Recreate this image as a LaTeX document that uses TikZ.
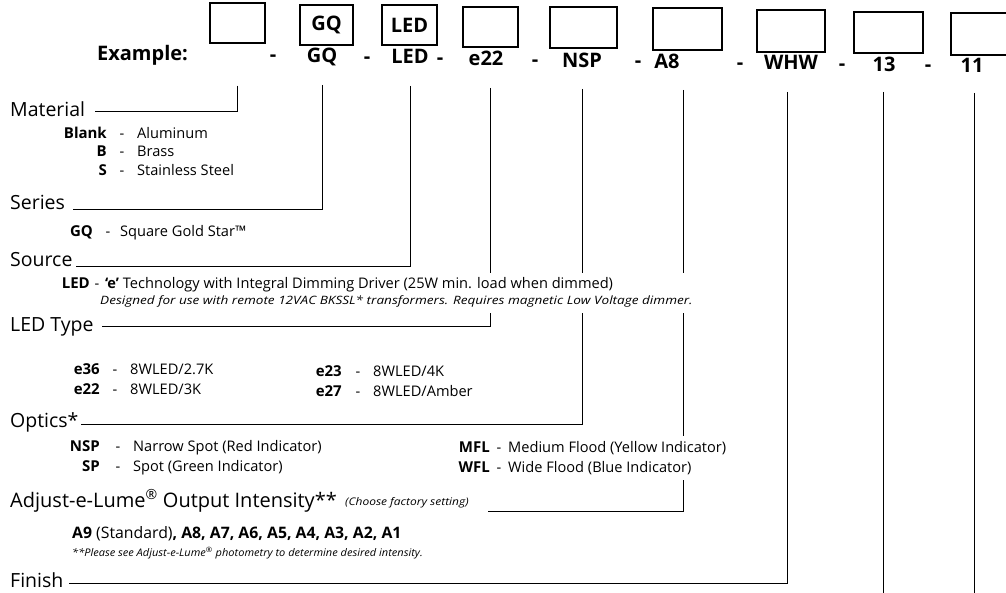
\documentclass[tikz,border=0pt]{standalone}
\usepackage{fontspec}
\setmainfont{Open Sans}
\usetikzlibrary{calc,backgrounds,fit}
\pgfdeclarelayer{masklayer}
\pgfsetlayers{background,masklayer,main}
\tikzset{
  head/.style={anchor=base west, inner sep=0pt, font=\fontsize{19.5}{20}\selectfont},
  item/.style={anchor=base west, inner sep=0pt, font=\fontsize{14.6}{15}\selectfont},
  key/.style={anchor=base east, inner sep=0pt, font=\fontsize{15}{16}\selectfont\bfseries},
  sep/.style={anchor=base, inner sep=0pt, font=\fontsize{14.6}{15}\selectfont},
  note/.style={anchor=base west, inner sep=0pt, font=\fontsize{11.5}{12}\selectfont\itshape\addfontfeatures{FakeStretch=1.18}},
  exr/.style={anchor=base, inner sep=0pt, font=\fontsize{20}{21}\selectfont\bfseries},
  codebox/.style={draw, line width=1.1pt, inner sep=0pt, font=\fontsize{20}{21}\selectfont\bfseries},
  conn/.style={line width=1pt},
  masker/.style={fill=white, draw=none, inner xsep=2pt, inner ysep=5pt}
}
\begin{document}
\begin{tikzpicture}[x=1pt,y=-1pt]
\useasboundingbox (0,0) rectangle (1006,593);
% top boxes
\node[codebox, minimum width=55pt, minimum height=40pt] (bx1) at (237.5,23) {};
\node[codebox, minimum width=53pt, minimum height=40pt] (bx2) at (326.5,25) {GQ};
\node[codebox, minimum width=55pt, minimum height=40pt] (bx3) at (409.5,25) {LED};
\node[codebox, minimum width=55pt, minimum height=40pt] (bx4) at (490.5,27) {};
\node[codebox, minimum width=67pt, minimum height=41pt] (bx5) at (583.5,27.5) {};
\node[codebox, minimum width=69pt, minimum height=42pt] (bx6) at (687.5,29) {};
\node[codebox, minimum width=68pt, minimum height=42pt] (bx7) at (791,31) {};
\node[codebox, minimum width=69pt, minimum height=41pt] (bx8) at (888.5,32.5) {};
\node[codebox, minimum width=60pt, minimum height=42pt] (bx9) at (981,34) {};
% example row
\node[exr] (exlab) at (142.5,61) {Example:};
\node[exr] (d1) at (273,62) {-};
\node[exr] (exGQ) at (322,63) {GQ};
\node[exr] (d2) at (367,64) {-};
\node[exr] (exLED) at (410,64) {LED};
\node[exr] (d3) at (440,65) {-};
\node[exr] (exE) at (486,66) {e22};
\node[exr] (d4) at (535,67) {-};
\node[exr] (exNSP) at (582,68) {NSP};
\node[exr] (d5) at (638,68) {-};
\node[exr] (exA8) at (667,69) {A8};
\node[exr] (d6) at (740,70) {-};
\node[exr] (exWHW) at (791,70) {WHW};
\node[exr] (d7) at (842,71) {-};
\node[exr] (ex13) at (884,72) {13};
\node[exr] (d8) at (928,72) {-};
\node[exr] (ex11) at (972,73) {11};
% Material
\node[head] (mat) at (10,117) {Material};
\node[key] (kBlank) at (107,139) {Blank};
\node[sep] (sBlank) at (122,139) {-};
\node[item] (tBlank) at (137,139) {Aluminum};
\node[key] (kB) at (107,157) {B};
\node[sep] (sB) at (122,157) {-};
\node[item] (tB) at (137,157) {Brass};
\node[key] (kS) at (107,176) {S};
\node[sep] (sS) at (122,176) {-};
\node[item] (tS) at (137,176) {Stainless Steel};
% Series
\node[head] (ser) at (10,210) {Series};
\node[key] (kGQ) at (93,237) {GQ};
\node[sep] (sGQ) at (108,237) {-};
\node[item] (tGQ) at (120,237) {Square Gold Star™};
% Source
\node[head] (src) at (10,267) {Source};
\node[key] (kLED) at (90,289) {LED};
\node[sep] (sLED) at (97,289) {-};
\node[item] (tLED) at (105,289) {\textbf{‘e’} Technology with Integral Dimming Driver (25W min. load when dimmed)};
\node[note] (nLED) at (100,305) {Designed for use with remote 12VAC BKSSL* transformers. Requires magnetic Low Voltage dimmer.};
% LED Type
\node[head] (lty) at (10,332) {LED Type};
\node[key] (k36) at (100,374) {e36};
\node[sep] (s36) at (115,374) {-};
\node[item] (t36) at (130,374) {8WLED/2.7K};
\node[key] (k22) at (100,394) {e22};
\node[sep] (s22) at (115,394) {-};
\node[item] (t22) at (130,394) {8WLED/3K};
\node[key] (k23) at (342,376) {e23};
\node[sep] (s23) at (358,376) {-};
\node[item] (t23) at (373,376) {8WLED/4K};
\node[key] (k27) at (342,396) {e27};
\node[sep] (s27) at (358,396) {-};
\node[item] (t27) at (373,396) {8WLED/Amber};
% Optics
\node[head] (opt) at (10,427) {Optics*};
\node[key] (kNSP) at (100,451) {NSP};
\node[sep] (sNSP) at (118,451) {-};
\node[item] (tNSP) at (133,451) {Narrow Spot (Red Indicator)};
\node[key] (kSP) at (100,471) {SP};
\node[sep] (sSP) at (118,471) {-};
\node[item] (tSP) at (133,471) {Spot (Green Indicator)};
\node[key] (kMFL) at (490,452) {MFL};
\node[sep] (sMFL) at (499,452) {-};
\node[item] (tMFL) at (508,452) {Medium Flood (Yellow Indicator)};
\node[key] (kWFL) at (490,472) {WFL};
\node[sep] (sWFL) at (499,472) {-};
\node[item] (tWFL) at (508,472) {Wide Flood (Blue Indicator)};
% Adjust
\node[head, font=\fontsize{20}{21}\selectfont] (adj) at (10,507) {Adjust-e-Lume\textsuperscript{®} Output Intensity**};
\node[note, font=\fontsize{10.5}{11}\selectfont\itshape\addfontfeatures{FakeStretch=1.14}] (choose) at (345,505) {(Choose factory setting)};
\node[item, font=\fontsize{15.8}{16}\selectfont] (tA) at (72,538) {\textbf{A9} (Standard)\textbf{, A8, A7, A6, A5, A4, A3, A2, A1}};
\node[note, font=\fontsize{10.5}{11}\selectfont\itshape\addfontfeatures{FakeStretch=1.05}] (nA) at (72,556) {**Please see Adjust-e-Lume\textsuperscript{®} photometry to determine desired intensity.};
% Finish
\node[head] (fin) at (10,587) {Finish};
\coordinate (end13) at (883,600);
\coordinate (end11) at (974,600);
% white gaps where the leader lines pass behind text
\begin{pgfonlayer}{masklayer}
\node[masker, fit=(tLED)(nLED)] (mLED) {};
\node[masker, fit=(tMFL)(tWFL)] (mFL) {};
\end{pgfonlayer}
% connectors
\begin{scope}[on background layer]
\draw[conn] ($(bx1.south)+(0,42)$) |- ($(mat.base east)+(10,-5)$);
\draw[conn] ($(exGQ.base)+(0,22)$) |- ($(ser.base east)+(8,0)$);
\draw[conn] ($(exLED.base)+(0,22)$) |- ($(src.base east)+(3,0)$);
\draw[conn] ($(exE.base)+(4,22)$) |- ($(lty.base east)+(8,-5)$);
\draw[conn] ($(exNSP.base)+(0,21)$) |- ($(opt.base east)+(2,-3)$);
\draw[conn] ($(exA8.base)+(16,21)$) |- ($(choose.base east)+(19,6)$);
\draw[conn] ($(exWHW.base)+(-4,22)$) |- ($(fin.base east)+(5,-4)$);
\draw[conn] ($(ex13.base)+(-1,20)$) -- (end13);
\draw[conn] ($(ex11.base)+(2,20)$) -- (end11);
\end{scope}
\end{tikzpicture}
\end{document}
